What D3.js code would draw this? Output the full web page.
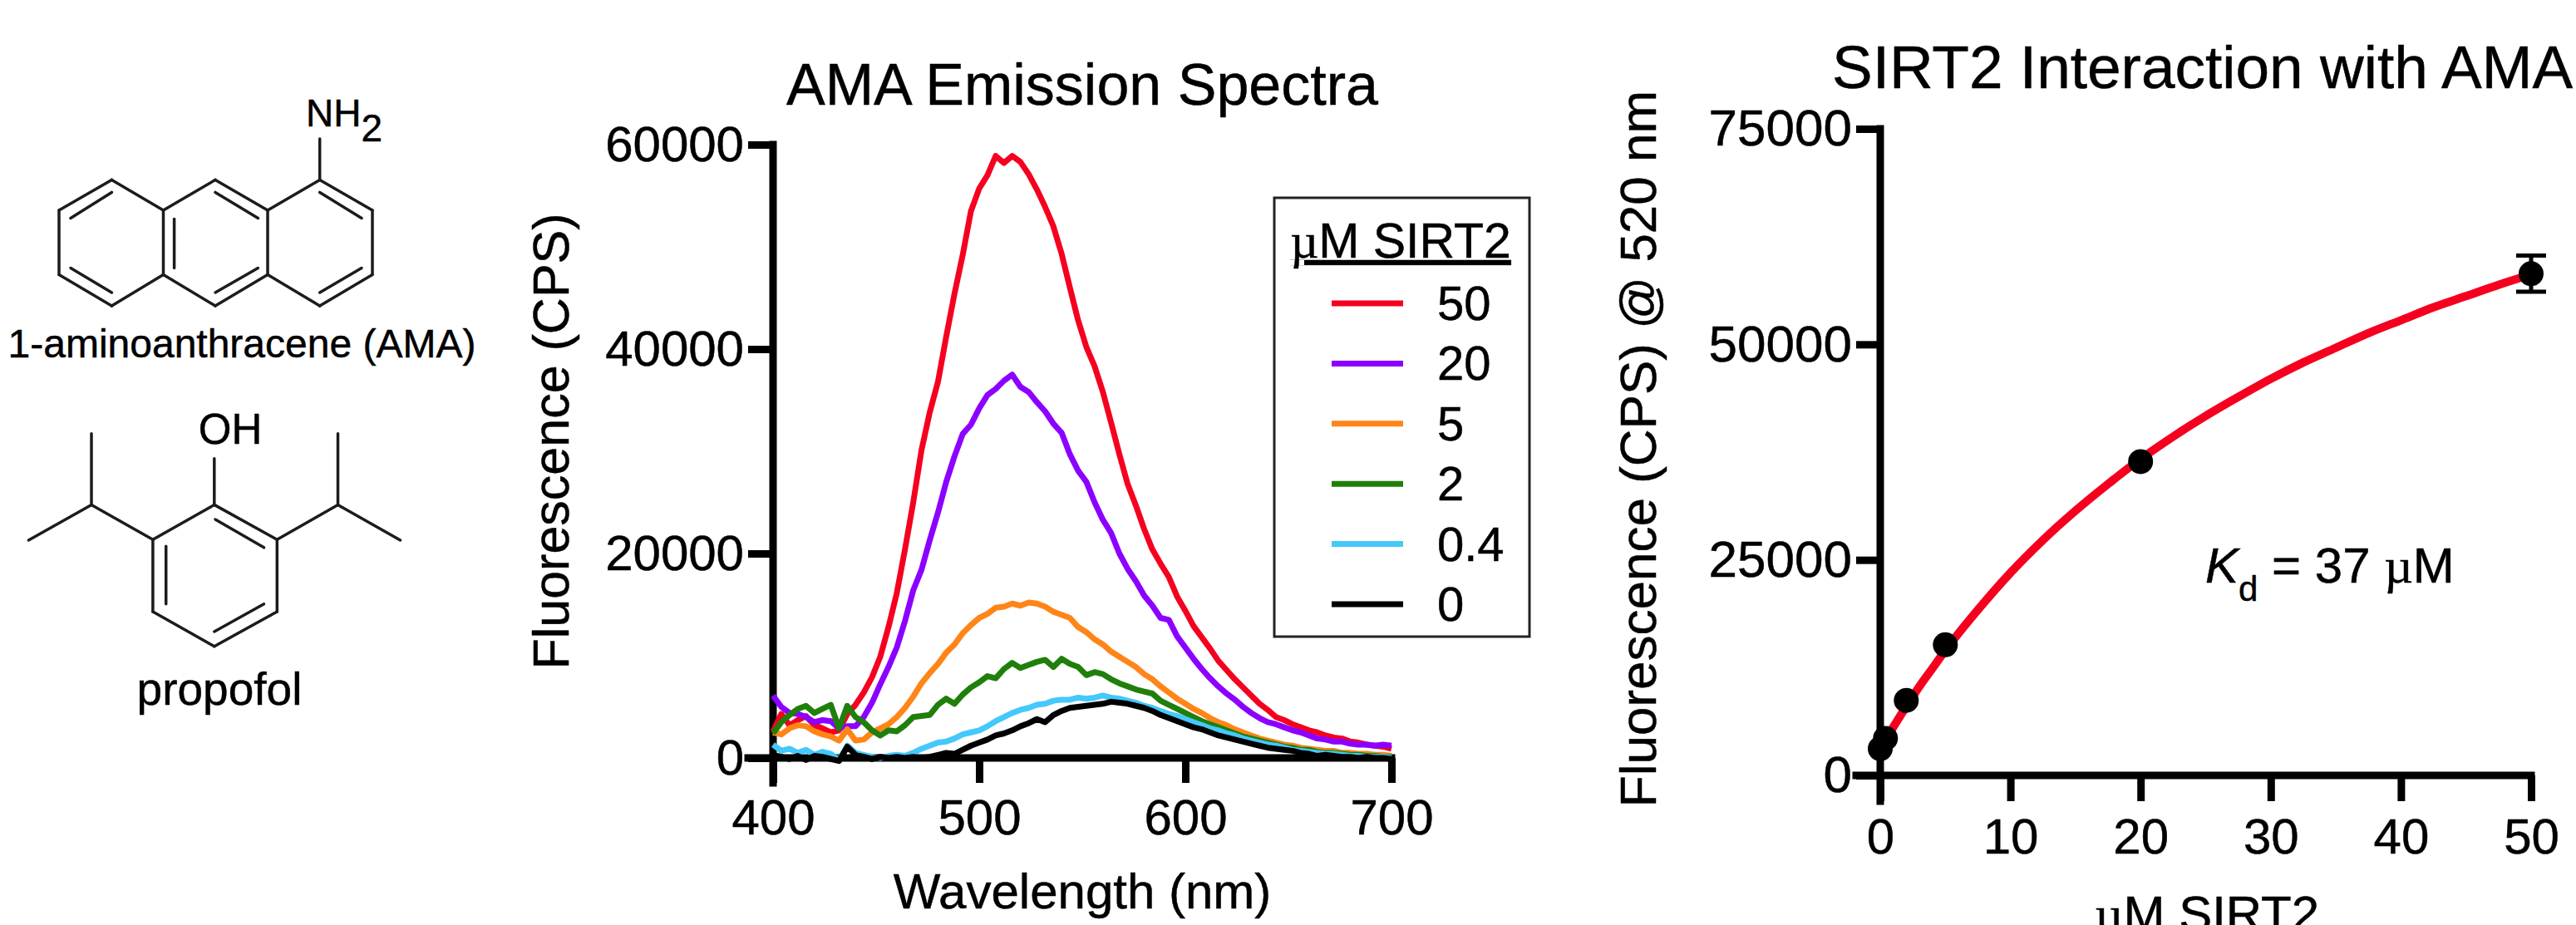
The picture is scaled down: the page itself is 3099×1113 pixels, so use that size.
<!DOCTYPE html>
<html>
<head>
<meta charset="utf-8">
<script src="https://cdn.jsdelivr.net/npm/d3@7"></script>
<style>
    html, body { margin: 0; padding: 0; background: #fff; overflow: hidden; }
    svg { display: block; }
    text { font-family: "Liberation Sans", Arial, sans-serif; fill: #000; stroke: #000; stroke-width: 0.5px; }
</style>
</head>
<body>
<svg id="chart"></svg>
<script>
// Spectra (CPS)
const wavelengths = [400,404,408,412,416,420,424,428,432,436,440,444,448,452,456,460,464,468,472,476,480,484,488,492,496,500,504,508,512,516,520,524,528,532,536,540,544,548,552,556,560,564,568,572,576,580,584,588,592,596,600,604,608,612,616,620,624,628,632,636,640,644,648,652,656,660,664,668,672,676,680,684,688,692,696,700];
const sirt50 = [2600,4300,3200,3700,4100,3200,2900,2500,2700,4300,5200,6400,7900,9900,12800,16100,20400,25000,30100,33800,36800,41200,45400,49200,53500,55700,57000,58900,58200,58900,58300,57100,55600,53900,52000,49300,46000,42800,40200,38300,35800,32800,29700,26800,24700,22400,20400,19000,17700,15800,14400,12900,11800,10700,9500,8600,7700,6900,6100,5300,4700,4000,3700,3300,3000,2700,2500,2200,2000,1900,1600,1500,1300,1200,1100,900];
const sirt20 = [6100,5000,4400,4300,4000,3500,3700,3600,2900,3100,3100,4000,5400,7200,8900,10800,13400,16400,18400,21300,24000,27000,29500,31700,32600,34200,35500,36100,36900,37500,36300,35800,34800,33900,32700,31800,29700,28100,27000,25000,23300,22000,20000,18500,17300,15900,14900,13700,13500,11900,10800,9700,8700,7800,7000,6300,5700,5000,4400,3900,3500,3300,3000,2700,2500,2200,1900,1800,1600,1600,1400,1300,1300,1200,1300,1200];
const sirt5 = [2500,2300,2900,3200,3100,2600,2300,2100,1700,2800,1700,1800,2500,2900,3300,4000,4900,6000,7300,8300,9200,10300,11100,12200,13000,13700,14100,14700,14800,15100,14900,15200,15100,14800,14300,14000,13700,12800,12300,11600,11100,10400,9900,9400,8900,8200,7700,7000,6400,5800,5300,4800,4400,3900,3500,3200,2800,2500,2200,1900,1700,1500,1300,1200,1000,900,800,700,700,500,500,400,400,300,300,200];
const sirt2 = [2400,3500,4200,4800,5100,4400,4800,5200,2900,5100,4000,3500,2700,2200,2700,2600,3200,4000,4100,4200,5200,5800,5300,6200,6900,7400,8000,7800,8700,9300,8800,9100,9400,9600,8900,9700,9200,8900,8100,8400,8200,7700,7300,7000,6700,6500,6300,5600,5200,4800,4400,4000,3600,3300,3000,2700,2400,2100,1900,1700,1500,1300,1100,1000,800,800,600,500,500,400,300,300,200,200,100,100];
const sirt04 = [1300,700,900,500,800,300,600,400,-200,1200,500,300,100,0,200,300,200,500,900,1200,1500,1600,1900,2300,2500,2700,3100,3600,4000,4400,4700,4900,5200,5300,5600,5700,5700,5900,5800,5900,6100,5900,5800,5600,5400,5100,4900,4600,4300,4100,3800,3500,3200,2900,2700,2400,2200,1900,1700,1500,1300,1200,1000,800,700,600,500,400,400,300,200,200,100,100,100,0];
const sirt0 = [300,100,-100,200,-200,200,100,-100,-300,1100,300,100,-100,100,0,100,0,100,0,100,300,500,400,800,1200,1500,1800,2200,2400,2700,3100,3400,3800,3500,4200,4600,4900,5000,5100,5200,5300,5500,5400,5300,5100,4900,4600,4200,3900,3600,3300,3000,2800,2500,2200,2000,1800,1600,1400,1200,1000,900,800,700,500,400,200,300,200,100,100,0,100,0,0,-100];

const seriesNames = ["50", "20", "5", "2", "0.4", "0"];
const seriesColors = ["#f5001f", "#8c00ff", "#ff8518", "#1f7f0a", "#45c8fb", "#000000"];
const seriesValues = [sirt50, sirt20, sirt5, sirt2, sirt04, sirt0];

// Binding data at 520 nm, only the last point has a visible error bar
const pointConc = [0, 0.4, 2, 5, 20, 50];
const pointCps = [3100, 4300, 8700, 15150, 36400, 58200];
const pointErr = [0, 0, 0, 0, 0, 2100];
const fitConc = [0.4, 1, 2, 3, 4, 5, 7.5, 10, 12.5, 15, 17.5, 20, 22.5, 25, 27.5, 30, 32.5, 35, 37.5, 40, 42.5, 45, 47.5, 50];
const fitCps = [4100, 5600, 8000, 10300, 12400, 14500, 19200, 23500, 27300, 30700, 33800, 36700, 39300, 41700, 43900, 46000, 47900, 49600, 51300, 52800, 54300, 55600, 56900, 58100];

const spectraXTicks = [400, 500, 600, 700];
const spectraYTicks = [0, 20000, 40000, 60000];
const bindingXTicks = [0, 10, 20, 30, 40, 50];
const bindingYTicks = [0, 25000, 50000, 75000];

const dimensions = { width: 3099, height: 1113 };

const svg = d3.select("#chart")
    .attr("width", dimensions.width)
    .attr("height", dimensions.height);

// Shared axis styling, thick prism style
function styleAxis(axisGroup, fontSize) {
    axisGroup.selectAll("path.domain").attr("stroke", "#000").attr("stroke-width", 9).attr("stroke-linecap", "square");
    axisGroup.selectAll(".tick line").attr("stroke", "#000").attr("stroke-width", 9);
    axisGroup.selectAll(".tick text")
        .style("font-size", fontSize + "px")
        .style("font-family", '"Liberation Sans", Arial, sans-serif')
        .attr("fill", "#000");
}

function label(x, y, str, size, anchor) {
    return svg.append("text")
        .attr("x", x)
        .attr("y", y)
        .attr("text-anchor", anchor || "middle")
        .style("font-size", size + "px")
        .text(str);
}

function yLabel(x, y, str, size) {
    return svg.append("text")
        .attr("transform", `translate(${x},${y}) rotate(-90)`)
        .attr("text-anchor", "middle")
        .style("font-size", size + "px")
        .text(str);
}

// ---------- Emission spectra panel ----------
const specX = d3.scaleLinear().domain([400, 700]).range([930, 1674]);
const specY = d3.scaleLinear().domain([0, 60000]).range([912, 174]);

const specXAxis = svg.append("g")
    .attr("transform", `translate(0,${specY(0)})`)
    .call(d3.axisBottom(specX).tickValues(spectraXTicks).tickFormat(d3.format("d")).tickSize(30).tickSizeOuter(0).tickPadding(19));
styleAxis(specXAxis, 60);

const specYAxis = svg.append("g")
    .attr("transform", `translate(${specX(400)},0)`)
    .call(d3.axisLeft(specY).tickValues(spectraYTicks).tickFormat(d3.format("d")).tickSize(30).tickSizeOuter(0).tickPadding(5));
styleAxis(specYAxis, 60);
// stretch the axis lines to the end of the outer ticks
specXAxis.select("path.domain").attr("d", `M900,0H${specX(700)}`);
specYAxis.select("path.domain").attr("d", `M0,942V${specY(60000)}`);

const specLine = d3.line()
    .x((d, i) => specX(wavelengths[i]))
    .y(d => specY(d));

svg.append("g").selectAll("path")
    .data(seriesValues)
    .enter()
    .append("path")
    .attr("d", specLine)
    .attr("fill", "none")
    .attr("stroke", (d, i) => seriesColors[i])
    .attr("stroke-width", 7)
    .attr("stroke-linejoin", "round");

label(1302, 126, "AMA Emission Spectra", 70);
yLabel(684, 531, "Fluorescence (CPS)", 61);
label(1302, 1093, "Wavelength (nm)", 60);

// Legend
svg.append("rect")
    .attr("x", 1533)
    .attr("y", 238)
    .attr("width", 307)
    .attr("height", 528)
    .attr("fill", "none")
    .attr("stroke", "#222")
    .attr("stroke-width", 3);

const legendTitle = label(1685, 310, "", 59);
legendTitle.append("tspan").style("font-family", '"Liberation Serif", serif').text("\u00b5");
legendTitle.append("tspan").text("M SIRT2");
legendTitle.attr("text-decoration", "underline");

const legendY = d3.scalePoint().domain(seriesNames).range([365, 727]);
const legend = svg.append("g");
seriesNames.forEach((name, i) => {
    legend.append("line")
        .attr("x1", 1602)
        .attr("x2", 1688)
        .attr("y1", legendY(name))
        .attr("y2", legendY(name))
        .attr("stroke", seriesColors[i])
        .attr("stroke-width", 7);
    legend.append("text")
        .attr("x", 1729)
        .attr("y", legendY(name) + 20)
        .style("font-size", "58px")
        .text(name);
});

// ---------- Binding panel ----------
const bindX = d3.scaleLinear().domain([0, 50]).range([2262, 3045]);
const bindY = d3.scaleLinear().domain([0, 75000]).range([933, 155]);

const bindXAxis = svg.append("g")
    .attr("transform", `translate(0,${bindY(0)})`)
    .call(d3.axisBottom(bindX).tickValues(bindingXTicks).tickFormat(d3.format("d")).tickSize(31).tickSizeOuter(0).tickPadding(20));
styleAxis(bindXAxis, 60);

const bindYAxis = svg.append("g")
    .attr("transform", `translate(${bindX(0)},0)`)
    .call(d3.axisLeft(bindY).tickValues(bindingYTicks).tickFormat(d3.format("d")).tickSize(29).tickSizeOuter(0).tickPadding(5));
styleAxis(bindYAxis, 62);
bindXAxis.select("path.domain").attr("d", `M2233,0H${bindX(50)}`);
bindYAxis.select("path.domain").attr("d", `M0,964V${bindY(75000)}`);

const fitLine = d3.line()
    .x((d, i) => bindX(fitConc[i]))
    .y(d => bindY(d))
    .curve(d3.curveMonotoneX);

svg.append("path")
    .attr("d", fitLine(fitCps))
    .attr("fill", "none")
    .attr("stroke", "#f5001f")
    .attr("stroke-width", 10);

const points = svg.append("g");
pointConc.forEach((c, i) => {
    const x = bindX(c);
    if (pointErr[i] > 0) {
        const top = bindY(pointCps[i] + pointErr[i]);
        const bottom = bindY(pointCps[i] - pointErr[i]);
        points.append("path")
            .attr("d", `M${x - 18},${top}H${x + 18}M${x},${top}V${bottom}M${x - 18},${bottom}H${x + 18}`)
            .attr("fill", "none")
            .attr("stroke", "#000")
            .attr("stroke-width", 5);
    }
    points.append("circle")
        .attr("cx", x)
        .attr("cy", bindY(pointCps[i]))
        .attr("r", 15)
        .attr("fill", "#000");
});

label(2204, 106, "SIRT2 Interaction with AMA", 73, "start");
yLabel(1992, 540, "Fluorescence (CPS) @ 520 nm", 62);

const bindXLabel = label(2655, 1120, "", 60);
bindXLabel.append("tspan").style("font-family", '"Liberation Serif", serif').text("\u00b5");
bindXLabel.append("tspan").text("M SIRT2");

// Kd annotation
const kd = label(2653, 701, "", 60, "start");
kd.append("tspan").style("font-style", "italic").text("K");
kd.append("tspan").attr("dy", 22).style("font-size", "42px").text("d");
kd.append("tspan").attr("dy", -22).text(" = 37 ");
kd.append("tspan").style("font-family", '"Liberation Serif", serif').text("\u00b5");
kd.append("tspan").text("M");

// ---------- Structures on the left ----------
const bondColor = "#1c1c1c";
const anthraceneBonds = [
    [71,253,134.4,216.4],[134.4,216.4,196.5,253],[196.5,253,259,216.4],[259,216.4,322,253],[322,253,384.7,216.4],[384.7,216.4,448,253],
    [448,253,448,330.5],[448,330.5,384.7,368],[384.7,368,322,330.5],[322,330.5,259,368],[259,368,196.5,330.5],[196.5,330.5,134.4,368],
    [134.4,368,71,330.5],[71,330.5,71,253],[196.5,253,196.5,330.5],[322,253,322,330.5],[384.7,216.4,384.7,167],
    [85,262.5,134.4,231.4],[85,322.5,134.4,352],[209.6,263.5,209.6,322.5],[259,231.4,310.4,262.5],[259,352,310.4,322.5],[384.7,231.4,435,262.5],[384.7,352,435,322.5]
];
const propofolBonds = [
    [257.8,607.4,333.3,649.2],[333.3,649.2,333.3,736],[333.3,736,257.8,777.7],[257.8,777.7,183.9,736],[183.9,736,183.9,649.2],[183.9,649.2,257.8,607.4],
    [257.8,607.4,257.8,551.7],[183.9,649.2,110,607.4],[110,607.4,110,521.7],[110,607.4,34.4,650],[333.3,649.2,406.5,607.4],[406.5,607.4,406.5,521.7],[406.5,607.4,481.6,650],
    [259,625,317.5,658.8],[199.7,657.2,199.7,726.8],[257.8,760,317.5,726.8]
];

svg.append("g").selectAll("line")
    .data(anthraceneBonds.concat(propofolBonds))
    .enter()
    .append("line")
    .attr("x1", d => d[0])
    .attr("y1", d => d[1])
    .attr("x2", d => d[2])
    .attr("y2", d => d[3])
    .attr("stroke", bondColor)
    .attr("stroke-width", 3.5)
    .attr("stroke-linecap", "round");

const nh2 = label(368, 152, "", 46, "start");
nh2.append("tspan").text("NH");
nh2.append("tspan").attr("dy", 18).text("2");

label(291, 430, "1-aminoanthracene (AMA)", 48);
label(277, 534, "OH", 51);
label(264, 848, "propofol", 55);
</script>
</body>
</html>
